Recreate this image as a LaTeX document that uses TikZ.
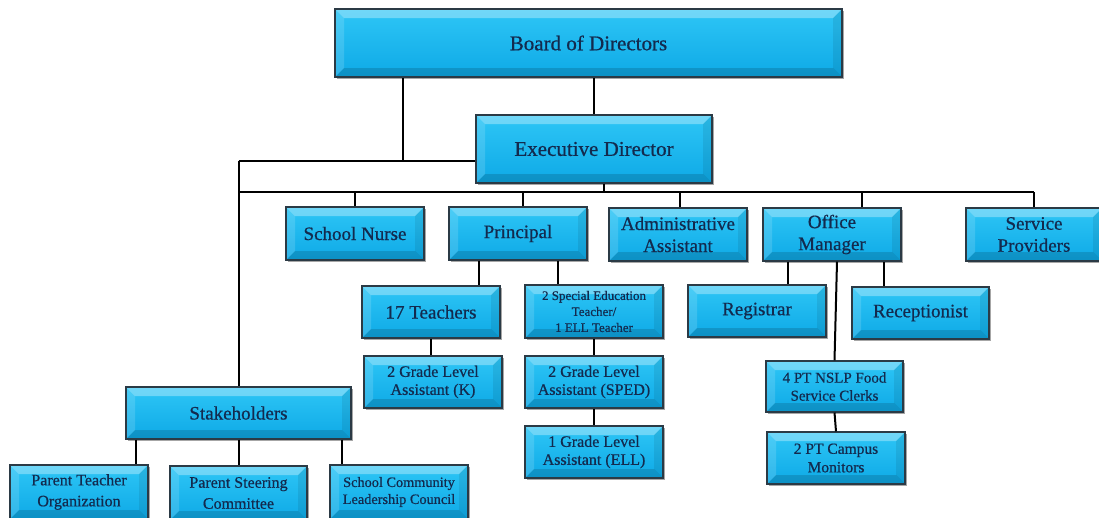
\documentclass[tikz,border=0pt]{standalone}
\usepackage{fontspec}
\setmainfont{Liberation Serif}[UprightFeatures={FakeBold=0.6}]
\usetikzlibrary{shadows}
\definecolor{boxtop}{HTML}{2EC6F6}
\definecolor{boxbot}{HTML}{0EA9E6}
\definecolor{txt}{HTML}{132A4E}
\definecolor{edgec}{HTML}{2B3A45}
\newcommand\fz[2]{\fontsize{#1}{#2}\selectfont}
\tikzset{
  orgbox/.style={draw=edgec, line width=1.1pt, top color=boxtop, bottom color=boxbot,
    text=txt, align=center, inner sep=0pt,
    drop shadow={shadow xshift=1.5pt, shadow yshift=-1.5pt, opacity=0.35, fill=black},
    path picture={
      \fill[white,opacity=0.32] (path picture bounding box.north west) -- (path picture bounding box.north east)
        -- ([xshift=-9pt,yshift=-9pt]path picture bounding box.north east) -- ([xshift=9pt,yshift=-9pt]path picture bounding box.north west) -- cycle;
      \fill[white,opacity=0.14] (path picture bounding box.north west) -- ([xshift=9pt,yshift=-9pt]path picture bounding box.north west)
        -- ([xshift=9pt,yshift=9pt]path picture bounding box.south west) -- (path picture bounding box.south west) -- cycle;
      \fill[black,opacity=0.14] (path picture bounding box.south west) -- (path picture bounding box.south east)
        -- ([xshift=-9pt,yshift=9pt]path picture bounding box.south east) -- ([xshift=9pt,yshift=9pt]path picture bounding box.south west) -- cycle;
      \fill[black,opacity=0.08] (path picture bounding box.north east) -- ([xshift=-9pt,yshift=-9pt]path picture bounding box.north east)
        -- ([xshift=-9pt,yshift=9pt]path picture bounding box.south east) -- (path picture bounding box.south east) -- cycle;
    }},
  link/.style={line width=2pt, black}
}
\begin{document}
\begin{tikzpicture}[x=1pt,y=-1pt]
\path[use as bounding box] (0,0) rectangle (1099,517);
\clip (0,0) rectangle (1099,517);
\fill[white] (0,0) rectangle (1099,517);

\node[orgbox, minimum width=507pt, minimum height=68pt, font=\fz{21}{25}] (board) at (588.5,43) {Board of Directors};
\node[orgbox, minimum width=236pt, minimum height=68pt, font=\fz{21}{25}] (exec) at (594,149) {Executive Director};

\node[orgbox, minimum width=138pt, minimum height=53pt, font=\fz{19}{22}] (nurse) at (355,233.5) {School Nurse};
\node[orgbox, minimum width=138pt, minimum height=53pt, font=\fz{19}{22}] (principal) at (518,233.5) {Principal};
\node[orgbox, minimum width=138pt, minimum height=53pt, font=\fz{19}{22}] (admin) at (678,234.5) {Administrative\\Assistant};
\node[orgbox, minimum width=138pt, minimum height=53pt, font=\fz{19}{22}] (om) at (832,234.5) {Office\\Manager};
\node[orgbox, minimum width=136pt, minimum height=53pt, font=\fz{19}{22}] (service) at (1034,234.5) {Service\\Providers};

\node[orgbox, minimum width=138pt, minimum height=52pt, font=\fz{19}{22}] (teach) at (431,312) {17 Teachers};
\node[orgbox, minimum width=138pt, minimum height=53pt, font=\fz{13}{16}] (spec) at (594,311.5) {2 Special Education\\Teacher/\\1 ELL Teacher};
\node[orgbox, minimum width=138pt, minimum height=52pt, font=\fz{16}{18}] (gradek) at (433,382) {2 Grade Level\\Assistant (K)};
\node[orgbox, minimum width=138pt, minimum height=52pt, font=\fz{16}{18}] (sped) at (594,382) {2 Grade Level\\Assistant (SPED)};
\node[orgbox, minimum width=138pt, minimum height=52pt, font=\fz{16}{18}] (ell) at (594,452) {1 Grade Level\\Assistant (ELL)};

\node[orgbox, minimum width=138pt, minimum height=52pt, font=\fz{19}{22}] (reg) at (757,311) {Registrar};
\node[orgbox, minimum width=137pt, minimum height=52pt, font=\fz{19}{22}] (rec) at (920.5,313) {Receptionist};
\node[orgbox, minimum width=137pt, minimum height=51pt, font=\fz{15}{18}] (nslp) at (834.5,386.5) {4 PT NSLP Food\\Service Clerks};
\node[orgbox, minimum width=138pt, minimum height=52pt, font=\fz{15.5}{18.5}] (campus) at (836,458) {2 PT Campus\\Monitors};

\node[orgbox, minimum width=225pt, minimum height=52pt, font=\fz{19}{22}] (stake) at (238.5,413) {Stakeholders};
\node[orgbox, minimum width=138pt, minimum height=54pt, font=\fz{16}{21}] (pto) at (79,492) {Parent Teacher\\Organization};
\node[orgbox, minimum width=137pt, minimum height=54pt, font=\fz{16}{21}] (psc) at (238.5,493) {Parent Steering\\Committee};
\node[orgbox, minimum width=138pt, minimum height=54pt, font=\fz{14.3}{17}] (sclc) at (399,492) {School Community\\Leadership Council};

\coordinate (j1) at (238.5,161);
\coordinate (busL) at (238.5,192);
\coordinate (busR) at (1034,192);

\draw[link] ([xshift=68.5pt]board.south west) |- ([yshift=-12pt]exec.west);
\draw[link] (j1) -- ([yshift=-12pt]exec.west);
\draw[link] (j1) -- (stake.north);
\draw[link] (exec.north) -- (exec.north |- board.south);
\draw[link] (busL) -- (busR);
\draw[link] ([xshift=10pt]exec.south) -- ([xshift=10pt]exec.south |- busL);
\draw[link] (nurse.north) -- (nurse.north |- busL);
\draw[link] ([xshift=5pt]principal.north) -- ([xshift=5pt]principal.north |- busL);
\draw[link] ([xshift=2pt]admin.north) -- ([xshift=2pt]admin.north |- busL);
\draw[link] ([xshift=30pt]om.north) -- ([xshift=30pt]om.north |- busL);
\draw[link] (service.north) -- (busR);

\draw[link] ([xshift=-39pt]principal.south) -- ([xshift=-39pt]principal.south |- teach.north);
\draw[link] ([xshift=40pt]principal.south) -- ([xshift=40pt]principal.south |- spec.north);
\draw[link] (teach.south) -- (teach.south |- gradek.north);
\draw[link] (spec.south) -- (sped.north);
\draw[link] (sped.south) -- (ell.north);

\draw[link] ([xshift=-44pt]om.south) -- ([xshift=-44pt]om.south |- reg.north);
\draw[link] ([xshift=52pt]om.south) -- ([xshift=52pt]om.south |- rec.north);
\draw[link] ([xshift=5pt]om.south) -- (nslp.north);
\draw[link] (nslp.south) -- (campus.north);

\draw[link] ([xshift=-102.5pt]stake.south) -- ([xshift=-102.5pt]stake.south |- pto.north);
\draw[link] (stake.south) -- (psc.north);
\draw[link] ([xshift=103.5pt]stake.south) -- ([xshift=103.5pt]stake.south |- sclc.north);
\end{tikzpicture}
\end{document}
